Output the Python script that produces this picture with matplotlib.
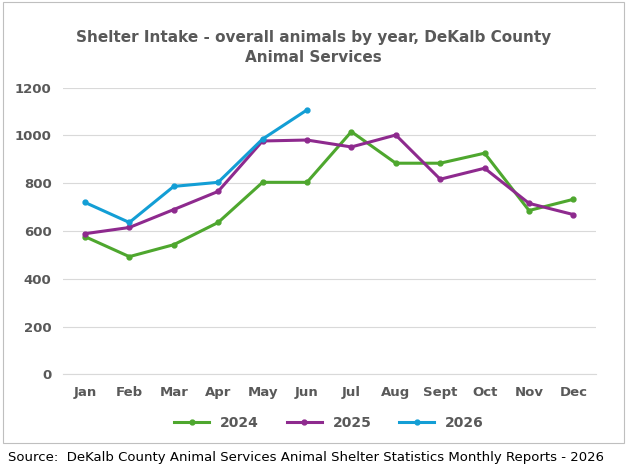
import matplotlib
matplotlib.use('Agg')
import matplotlib.pyplot as plt

months = ['Jan', 'Feb', 'Mar', 'Apr', 'May', 'Jun', 'Jul', 'Aug', 'Sept', 'Oct', 'Nov', 'Dec']
y2024 = [577, 493, 543, 636, 804, 804, 1016, 884, 884, 926, 686, 733]
y2025 = [589, 615, 690, 766, 977, 981, 952, 1002, 817, 863, 716, 669]
y2026 = [720, 636, 787, 804, 985, 1107]

fig = plt.figure(figsize=(6.27, 4.74), dpi=100)
ax = fig.add_axes([0.10, 0.21, 0.85, 0.605])

x = list(range(len(months)))
ax.plot(x, y2024, color='#4ea72e', lw=2.2, marker='o', ms=3.5, label='2024')
ax.plot(x, y2025, color='#8e2a8e', lw=2.2, marker='o', ms=3.5, label='2025')
ax.plot(x[:len(y2026)], y2026, color='#139ed5', lw=2.2, marker='o', ms=3.5, label='2026')

ax.set_ylim(0, 1200)
ax.set_xlim(-0.5, 11.5)
ax.set_yticks(range(0, 1201, 200))
ax.set_xticks(x)
ax.set_xticklabels(months)
ax.grid(axis='y', color='#d9d9d9', lw=0.8)
ax.set_axisbelow(True)
for s in ['top', 'right', 'left']:
    ax.spines[s].set_visible(False)
ax.spines['bottom'].set_color('#d9d9d9')
ax.tick_params(length=0, labelsize=9.5, labelcolor='#595959', pad=8)
for t in ax.get_xticklabels() + ax.get_yticklabels():
    t.set_fontweight('bold')

fig.text(0.5, 0.90, 'Shelter Intake - overall animals by year, DeKalb County\nAnimal Services',
         ha='center', va='center', fontsize=11, fontweight='bold', color='#595959', linespacing=1.4)
ax.legend(loc='upper center', bbox_to_anchor=(0.5, -0.1), ncol=3, frameon=False,
          prop={'weight': 'bold', 'size': 10}, labelcolor='#595959', handlelength=2.5)

fig.patches.append(plt.Rectangle((0.005, 0.065), 0.99, 0.93, transform=fig.transFigure,
                                 fill=False, edgecolor='#bfbfbf', lw=0.8))
fig.text(0.012, 0.035, 'Source:  DeKalb County Animal Services Animal Shelter Statistics Monthly Reports - 2026',
         fontsize=9.5, va='center', color='black')

fig.savefig('out.png', dpi=100)
